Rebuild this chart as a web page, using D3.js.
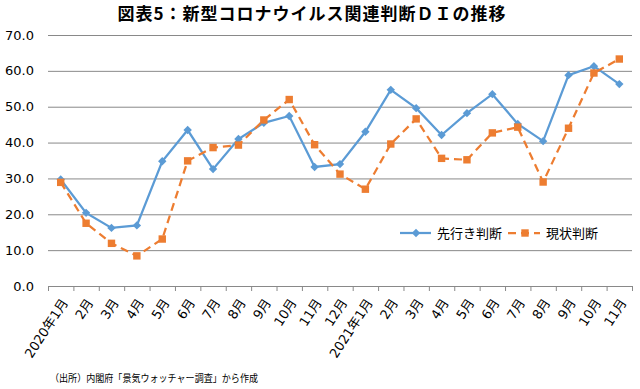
<!DOCTYPE html>
<html>
<head>
<meta charset="utf-8">
<script src="https://cdn.jsdelivr.net/npm/d3@7"></script>
<style>
  body { margin: 0; background: #fff; }
  svg { display: block; }
</style>
</head>
<body>
<script>
var months = ["2020年1月", "2月", "3月", "4月", "5月", "6月", "7月", "8月", "9月", "10月", "11月", "12月",
    "2021年1月", "2月", "3月", "4月", "5月", "6月", "7月", "8月", "9月", "10月", "11月"];
var sakiyuki = [29.7, 20.4, 16.2, 16.9, 34.8, 43.5, 32.6, 41.0, 45.5, 47.4, 33.2, 34.0,
    43.0, 54.7, 49.6, 42.1, 48.2, 53.5, 45.2, 40.4, 58.8, 61.3, 56.3];
var genjo = [28.9, 17.5, 11.9, 8.4, 13.1, 34.9, 38.6, 39.3, 46.3, 52.0, 39.4, 31.2,
    27.0, 39.6, 46.6, 35.6, 35.2, 42.7, 44.3, 29.0, 44.0, 59.4, 63.3];
var yTicks = [0, 10, 20, 30, 40, 50, 60, 70];

var W = 640, H = 389;
var margin = { top: 35, right: 8, bottom: 103, left: 48 },
    width = W - margin.left - margin.right,
    height = H - margin.top - margin.bottom;

var svg = d3.select("body").append("svg")
    .attr("width", W)
    .attr("height", H);

svg.append("text")
    .attr("x", 312)
    .attr("y", 20)
    .attr("text-anchor", "middle")
    .style("font-family", "'Noto Sans CJK JP'")
    .style("font-weight", "bold")
    .style("font-size", "17px")
    .style("letter-spacing", "1px")
    .text("図表5：新型コロナウイルス関連判断ＤＩの推移");

var g = svg.append("g")
    .attr("transform", "translate(" + margin.left + "," + margin.top + ")");

var x = d3.scaleBand().domain(d3.range(months.length)).range([0, width]);
var y = d3.scaleLinear().domain([0, 70]).range([height, 0]);

// grid
g.selectAll(".grid").data(yTicks.filter(d => d > 0)).enter().append("line")
    .attr("x1", 0).attr("x2", width)
    .attr("y1", d => y(d) + 0.5).attr("y2", d => y(d) + 0.5)
    .attr("stroke", "#898989").attr("stroke-width", 1);

// y labels
g.selectAll(".ylab").data(yTicks).enter().append("text")
    .attr("x", -14)
    .attr("y", d => y(d))
    .attr("dy", "0.35em")
    .attr("text-anchor", "end")
    .style("font-family", "'DejaVu Sans'")
    .style("font-size", "13px")
    .attr("fill", "#000")
    .text(d => d.toFixed(1));

// x axis
var xAxis = g.append("g")
    .attr("transform", "translate(0," + height + ")")
    .call(d3.axisBottom(d3.scaleLinear().domain([0, months.length]).range([0, width]))
        .ticks(months.length).tickSize(5).tickFormat(""));
xAxis.select(".domain").attr("stroke", "#898989");
xAxis.selectAll(".tick line").attr("stroke", "#898989");

g.selectAll(".xlab").data(months).enter().append("text")
    .attr("transform", (d, i) => "translate(" + (x(i) + x.bandwidth() / 2 + 4) + "," + (height + 14) + ") rotate(-57)")
    .attr("text-anchor", "end")
    .attr("dy", "0.35em")
    .style("font-family", "'DejaVu Sans', 'Noto Sans CJK JP'")
    .style("font-size", "13px")
    .attr("fill", "#000")
    .text(d => d);

var cx = i => x(i) + x.bandwidth() / 2;

var line = d3.line().x((d, i) => cx(i)).y(d => y(d));

g.append("path").datum(sakiyuki)
    .attr("d", line)
    .attr("fill", "none")
    .attr("stroke", "#5B9BD5")
    .attr("stroke-width", 2.25);

g.append("path").datum(genjo)
    .attr("d", line)
    .attr("fill", "none")
    .attr("stroke", "#ED7D31")
    .attr("stroke-width", 2.25)
    .attr("stroke-dasharray", "8,5");

var diamond = d3.symbol().type(d3.symbolDiamond2).size(45);
var square = d3.symbol().type(d3.symbolSquare).size(55);

g.selectAll(".dm").data(sakiyuki).enter().append("path")
    .attr("d", diamond)
    .attr("transform", (d, i) => "translate(" + cx(i) + "," + y(d) + ")")
    .attr("fill", "#5B9BD5");

g.selectAll(".sq").data(genjo).enter().append("path")
    .attr("d", square)
    .attr("transform", (d, i) => "translate(" + cx(i) + "," + y(d) + ")")
    .attr("fill", "#ED7D31");

// legend
var lg = svg.append("g").attr("transform", "translate(400,233)");
lg.append("line").attr("x1", 0).attr("x2", 31).attr("y1", 0).attr("y2", 0)
    .attr("stroke", "#5B9BD5").attr("stroke-width", 2.25);
lg.append("path").attr("d", diamond).attr("transform", "translate(16,0)").attr("fill", "#5B9BD5");
lg.append("text").attr("x", 37).attr("y", 0).attr("dy", "0.35em")
    .style("font-family", "'Noto Sans CJK JP'").style("font-size", "13px")
    .text("先行き判断");
lg.append("line").attr("x1", 108).attr("x2", 140).attr("y1", 0).attr("y2", 0)
    .attr("stroke", "#ED7D31").attr("stroke-width", 2.25).attr("stroke-dasharray", "8,5");
lg.append("path").attr("d", square).attr("transform", "translate(125,0)").attr("fill", "#ED7D31");
lg.append("text").attr("x", 146).attr("y", 0).attr("dy", "0.35em")
    .style("font-family", "'Noto Sans CJK JP'").style("font-size", "13px")
    .text("現状判断");

svg.append("text")
    .attr("x", 50)
    .attr("y", 382)
    .attr("textLength", 208)
    .attr("lengthAdjust", "spacingAndGlyphs")
    .style("font-family", "'Noto Sans CJK JP'")
    .style("font-size", "10px")
    .text("（出所）内閣府「景気ウォッチャー調査」から作成");
</script>
</body>
</html>
